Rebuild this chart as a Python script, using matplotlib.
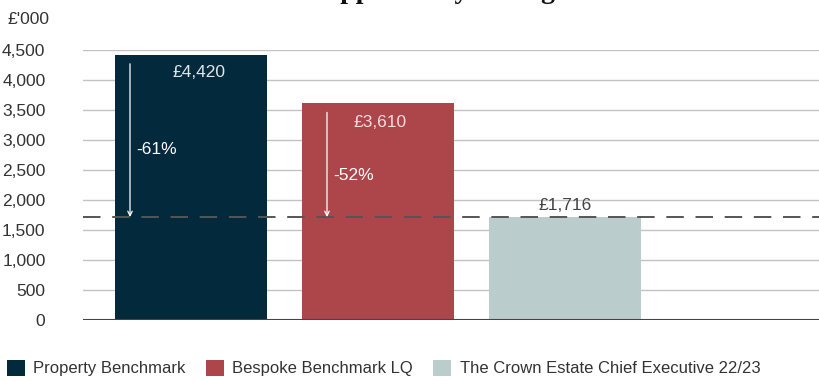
import matplotlib.pyplot as plt
from matplotlib.patches import Patch

plt.rcParams['font.family'] = ['Liberation Sans', 'DejaVu Sans']

# values in £'000
categories = ['Property Benchmark', 'Bespoke Benchmark LQ',
              'The Crown Estate Chief Executive 22/23']
values = [4420, 3610, 1716]
value_labels = ['£4,420', '£3,610', '£1,716']
gap_labels = ['-61%', '-52%']
colors = ['#03293d', '#ac464b', '#bacccb']
y_ticks = [0, 500, 1000, 1500, 2000, 2500, 3000, 3500, 4000, 4500]

fig = plt.figure(figsize=(8.19, 3.81), dpi=100)
ax = fig.add_axes([83 / 819, 1 - 320 / 381, 1 - 83 / 819, 270 / 381])

x = list(range(len(values)))
width = 0.813
ax.bar(x, values, width=width, color=colors, zorder=2)

ax.set_xlim(-0.578, 3.36)
ax.set_ylim(0, 4500)
ax.set_yticks(y_ticks)
ax.set_yticklabels([f'{t:,}' for t in y_ticks], color='#333333', fontsize=12.5)
ax.tick_params(axis='y', length=0, pad=27)
ax.set_xticks([])
ax.grid(axis='y', color='#c2c2c2', linewidth=1, zorder=0)
for s in ax.spines.values():
    s.set_visible(False)
ax.axhline(0, color='#444444', linewidth=1.5, zorder=3)

# target line at the chief executive's figure
ax.axhline(values[2], color='#555555', linewidth=1.4, dashes=(9, 6), zorder=3)

# value labels
ax.text(x[0] + 0.04, values[0] - 170, value_labels[0], color='#dfe6ea',
        fontsize=12.5, ha='center', va='top', zorder=4)
ax.text(x[1] + 0.01, values[1] - 200, value_labels[1], color='#f2dcdc',
        fontsize=12.5, ha='center', va='top', zorder=4)
ax.text(x[2], values[2] + 70, value_labels[2], color='#444444',
        fontsize=12.5, ha='center', va='bottom', zorder=4)

# gap arrows down to the target line
arrow_x = [x[0] - width / 2 + 0.08, x[1] - width / 2 + 0.134]
arrow_top = [values[0] - 150, values[1] - 150]
label_y = [2850, 2410]
for ax_x, top, lab, ly in zip(arrow_x, arrow_top, gap_labels, label_y):
    ax.annotate('', xy=(ax_x, values[2]), xytext=(ax_x, top),
                arrowprops=dict(arrowstyle='->', color='white', lw=0.9,
                                shrinkA=0, shrinkB=0, mutation_scale=8),
                zorder=4)
    ax.text(ax_x + 0.035, ly, lab, color='white', fontsize=12.5,
            ha='left', va='center', zorder=4)

fig.text(8 / 819, 1 - 20 / 381, "£'000", fontsize=12.5, color='#333333',
         ha='left', va='center')

# heading sits above the visible area
fig.text(418 / 819, 1.0 + 2 / 381, 'Total opportunity at target',
         fontsize=20, fontweight='bold', family='Liberation Serif',
         ha='center', va='baseline', color='#111111')

handles = [Patch(facecolor=c, edgecolor='none') for c in colors]
fig.legend(handles, categories, loc='center left',
           bbox_to_anchor=(0.0, 1 - 368 / 381), ncol=3, frameon=False,
           fontsize=12, handlelength=1.1, handleheight=1.1,
           handletextpad=0.5, columnspacing=1.2, borderaxespad=0,
           labelcolor='#333333')

fig.savefig('out.png', dpi=100)
